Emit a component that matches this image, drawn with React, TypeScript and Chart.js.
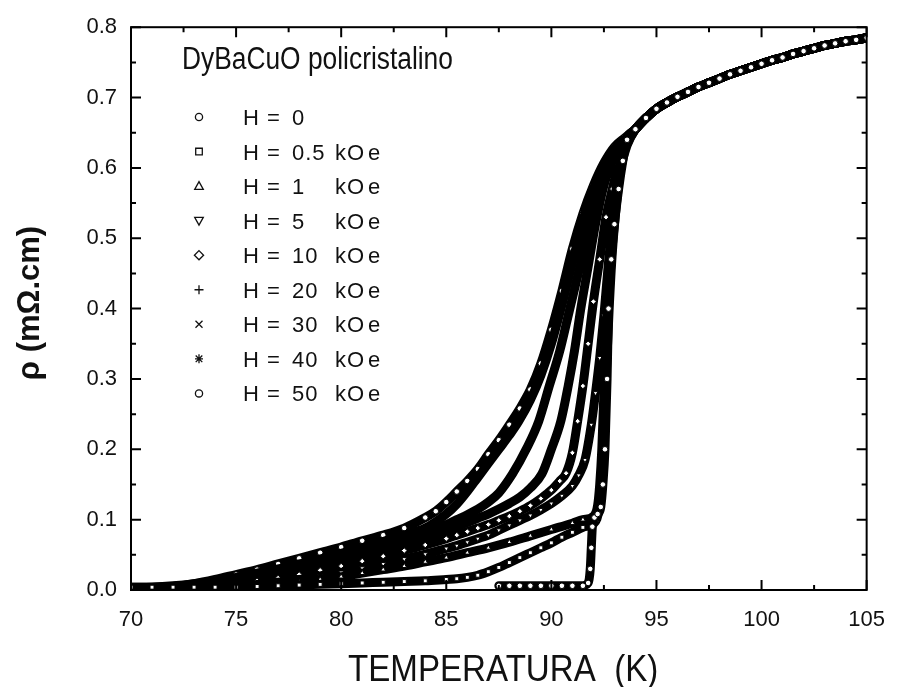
import React, { useEffect, useRef } from "react";
import { Chart, registerables } from "chart.js";

Chart.register(...registerables);

type Pt = [number, number];

// ---- axis ticks ----
const X_TICKS = [70, 75, 80, 85, 90, 95, 100, 105];
const X_MINOR = [72.5, 77.5, 82.5, 87.5, 92.5, 97.5, 102.5];
const Y_TICKS = [0, 0.1, 0.2, 0.3, 0.4, 0.5, 0.6, 0.7, 0.8];
const Y_MINOR = [0.05, 0.15, 0.25, 0.35, 0.45, 0.55, 0.65, 0.75];

// ---- texts ----
const TITLE = "DyBaCuO policristalino";
const X_TITLE = "TEMPERATURA  (K)";
const Y_TITLE = "ρ (mΩ.cm)";
const LEGEND_VALUES = ["0", "0.5", "1", "5", "10", "20", "30", "40", "50"];
const LEGEND_HAS_UNIT = [false, true, true, true, true, true, true, true, true];
const POINT_STYLES = ["circle", "rect", "triangle", "triangleDown", "rectRot", "cross", "crossRot", "star", "circle"];

// ---- data: temperature (K), resistivity (mOhm.cm) ----
// normal state, where all curves coincide
const NORMAL: Pt[] = [
  [94, 0.655], [94.5, 0.671], [95, 0.684], [95.5, 0.693], [96, 0.701], [96.5, 0.708],
  [97, 0.715], [97.5, 0.721], [98, 0.727], [98.5, 0.733], [99, 0.738], [99.5, 0.743],
  [100, 0.748], [100.5, 0.753], [101, 0.757], [101.5, 0.762], [102, 0.766], [102.5, 0.77],
  [103, 0.774], [103.5, 0.777], [104, 0.78], [104.5, 0.782], [105, 0.785],
];

const H0: Pt[] = [
  [87.5, 0.006], [88, 0.006], [88.5, 0.006], [89, 0.006], [89.5, 0.006], [90, 0.006],
  [90.5, 0.006], [91, 0.006], [91.5, 0.006], [91.75, 0.01], [91.85, 0.03], [91.9, 0.06],
  [91.95, 0.09], [92.05, 0.103], [92.2, 0.108], [92.35, 0.118], [92.45, 0.15], [92.55, 0.2],
  [92.65, 0.3], [92.72, 0.4], [92.85, 0.47], [93.0, 0.52], [93.2, 0.57], [93.4, 0.61], [93.6, 0.64],
];

const H05: Pt[] = [
  [70, 0.004], [71, 0.004], [72, 0.004], [73, 0.004], [74, 0.004], [75, 0.004], [76, 0.005],
  [77, 0.006], [78, 0.007], [79, 0.008], [80, 0.009], [81, 0.01], [82, 0.011], [83, 0.012],
  [84, 0.013], [85, 0.015], [85.5, 0.016], [86, 0.018], [86.5, 0.021], [87, 0.026],
  [87.5, 0.032], [88, 0.039], [88.5, 0.046], [89, 0.053], [89.5, 0.06], [90, 0.067],
  [90.5, 0.075], [91, 0.082], [91.5, 0.089], [92, 0.094], [92.15, 0.1], [92.3, 0.12],
  [92.4, 0.16], [92.5, 0.22], [92.6, 0.3], [92.75, 0.4], [92.9, 0.48], [93.1, 0.55],
  [93.3, 0.6], [93.5, 0.635],
];

const H1: Pt[] = [
  [74, 0.004], [75, 0.005], [76, 0.006], [77, 0.008], [78, 0.011], [79, 0.015], [80, 0.019],
  [81, 0.024], [82, 0.029], [83, 0.034], [84, 0.04], [85, 0.046], [86, 0.053], [87, 0.06],
  [88, 0.068], [89, 0.077], [90, 0.086], [91, 0.095], [91.5, 0.1], [92, 0.105], [92.2, 0.12],
  [92.3, 0.15], [92.4, 0.2], [92.5, 0.28], [92.65, 0.38], [92.8, 0.47], [93.0, 0.55],
  [93.2, 0.59], [93.5, 0.633],
];

const H5: Pt[] = [
  [73, 0.003], [74, 0.004], [75, 0.006], [76, 0.008], [77, 0.011], [78, 0.015], [79, 0.02],
  [80, 0.025], [81, 0.031], [82, 0.037], [83, 0.044], [84, 0.051], [85, 0.059], [85.5, 0.063],
  [86, 0.068], [86.5, 0.073], [87, 0.078], [87.5, 0.085], [88, 0.092], [88.5, 0.099],
  [89, 0.106], [89.5, 0.114], [90, 0.123], [90.5, 0.134], [91, 0.148], [91.3, 0.163],
  [91.6, 0.185], [91.9, 0.235], [92.1, 0.28], [92.3, 0.33], [92.5, 0.39], [92.7, 0.46],
  [92.9, 0.52], [93.1, 0.565], [93.3, 0.6], [93.6, 0.632],
];

const H10: Pt[] = [
  [72, 0.003], [73, 0.004], [74, 0.006], [75, 0.009], [76, 0.013], [77, 0.017], [78, 0.022],
  [79, 0.028], [80, 0.034], [81, 0.041], [82, 0.048], [83, 0.056], [84, 0.064], [85, 0.073],
  [85.5, 0.078], [86, 0.083], [86.5, 0.088], [87, 0.093], [87.5, 0.099], [88, 0.105],
  [88.5, 0.112], [89, 0.12], [89.5, 0.13], [90, 0.142], [90.4, 0.155], [90.7, 0.166],
  [91, 0.195], [91.25, 0.24], [91.5, 0.29], [91.75, 0.35], [92, 0.41], [92.3, 0.47],
  [92.6, 0.53], [92.9, 0.57], [93.2, 0.605], [93.5, 0.628],
];

const H20: Pt[] = [
  [71, 0.003], [72, 0.004], [73, 0.006], [74, 0.009], [75, 0.013], [76, 0.018], [77, 0.023],
  [78, 0.029], [79, 0.035], [80, 0.042], [81, 0.05], [82, 0.058], [83, 0.066], [84, 0.075],
  [85, 0.085], [85.5, 0.09], [86, 0.096], [86.5, 0.102], [87, 0.108], [87.5, 0.115],
  [88, 0.123], [88.5, 0.132], [89, 0.145], [89.55, 0.165], [90, 0.2], [90.45, 0.24],
  [90.8, 0.29], [91.1, 0.34], [91.4, 0.4], [91.75, 0.46], [92.1, 0.52], [92.5, 0.575],
  [93, 0.615], [93.5, 0.635],
];

const H30: Pt[] = [
  [70.5, 0.003], [72, 0.005], [73, 0.008], [74, 0.012], [75, 0.016], [76, 0.021], [77, 0.027],
  [78, 0.033], [79, 0.04], [80, 0.047], [81, 0.055], [82, 0.063], [83, 0.072], [84, 0.082],
  [85, 0.093], [85.5, 0.1], [86, 0.107], [86.5, 0.115], [87, 0.125], [87.5, 0.138],
  [88.15, 0.165], [88.8, 0.2], [89.4, 0.24], [89.9, 0.29], [90.4, 0.34], [90.8, 0.39],
  [91.2, 0.44], [91.6, 0.49], [92, 0.54], [92.5, 0.585], [93, 0.615], [93.5, 0.637],
];

const H40: Pt[] = [
  [70, 0.003], [71, 0.004], [72, 0.006], [73, 0.009], [74, 0.013], [75, 0.018], [76, 0.024],
  [77, 0.03], [78, 0.037], [79, 0.044], [80, 0.052], [81, 0.06], [82, 0.069], [83, 0.078],
  [84, 0.088], [85, 0.108], [85.5, 0.122], [86, 0.14], [86.5, 0.16], [87, 0.18], [87.5, 0.2],
  [88, 0.22], [88.45, 0.24], [89, 0.27], [89.5, 0.305], [90, 0.35], [90.5, 0.405],
  [91, 0.465], [91.5, 0.525], [92, 0.57], [92.5, 0.603], [93, 0.627], [93.5, 0.64],
];

const H50: Pt[] = [
  [70, 0.004], [71, 0.004], [72, 0.005], [73, 0.009], [74, 0.015], [75, 0.022], [76, 0.029],
  [77, 0.037], [78, 0.045], [79, 0.053], [80, 0.061], [81, 0.07], [82, 0.078], [83, 0.088],
  [84, 0.103], [84.5, 0.112], [85, 0.125], [85.5, 0.14], [86, 0.155], [86.5, 0.172],
  [87, 0.193], [87.5, 0.213], [88, 0.235], [88.5, 0.258], [89, 0.285], [89.5, 0.322],
  [90, 0.37], [90.5, 0.425], [91, 0.485], [91.5, 0.535], [92, 0.575], [92.5, 0.607],
  [93, 0.63], [93.5, 0.643],
];

const SERIES: Pt[][] = [H0, H05, H1, H5, H10, H20, H30, H40, H50];

const FONT = '"Liberation Sans", Arial, Helvetica, sans-serif';

function drawSymbol(ctx: CanvasRenderingContext2D, style: string, x: number, y: number) {
  ctx.beginPath();
  const r = 3.6;
  switch (style) {
    case "circle":
      ctx.arc(x, y, r, 0, Math.PI * 2);
      break;
    case "rect":
      ctx.rect(x - 3.3, y - 3.3, 6.6, 6.6);
      break;
    case "triangle":
      ctx.moveTo(x, y - 4.5); ctx.lineTo(x + 4.3, y + 3.3); ctx.lineTo(x - 4.3, y + 3.3); ctx.closePath();
      break;
    case "triangleDown":
      ctx.moveTo(x, y + 4.5); ctx.lineTo(x + 4.3, y - 3.3); ctx.lineTo(x - 4.3, y - 3.3); ctx.closePath();
      break;
    case "rectRot":
      ctx.moveTo(x, y - 4.6); ctx.lineTo(x + 4.6, y); ctx.lineTo(x, y + 4.6); ctx.lineTo(x - 4.6, y); ctx.closePath();
      break;
    case "cross":
      ctx.moveTo(x - 4.5, y); ctx.lineTo(x + 4.5, y); ctx.moveTo(x, y - 4.5); ctx.lineTo(x, y + 4.5);
      break;
    case "crossRot":
      ctx.moveTo(x - 3.5, y - 3.5); ctx.lineTo(x + 3.5, y + 3.5); ctx.moveTo(x + 3.5, y - 3.5); ctx.lineTo(x - 3.5, y + 3.5);
      break;
    case "star":
      ctx.moveTo(x - 4, y); ctx.lineTo(x + 4, y); ctx.moveTo(x, y - 4.5); ctx.lineTo(x, y + 4.5);
      ctx.moveTo(x - 3.3, y - 3.3); ctx.lineTo(x + 3.3, y + 3.3); ctx.moveTo(x + 3.3, y - 3.3); ctx.lineTo(x - 3.3, y + 3.3);
      break;
  }
  ctx.stroke();
}

const framePlugin = {
  id: "frame",
  afterDatasetsDraw(chart: any) {
    const { ctx, chartArea } = chart;
    const xs = chart.scales.x;
    const ys = chart.scales.y;
    const { left, right, top, bottom } = chartArea;
    ctx.save();
    ctx.strokeStyle = "#000";
    ctx.lineWidth = 2;
    ctx.strokeRect(left, top, right - left, bottom - top);
    ctx.beginPath();
    const tick = (vals: number[], len: number, horiz: boolean) => {
      vals.forEach((v) => {
        if (horiz) {
          const px = xs.getPixelForValue(v);
          ctx.moveTo(px, bottom); ctx.lineTo(px, bottom - len);
          ctx.moveTo(px, top); ctx.lineTo(px, top + len);
        } else {
          const py = ys.getPixelForValue(v);
          ctx.moveTo(left, py); ctx.lineTo(left + len, py);
          ctx.moveTo(right, py); ctx.lineTo(right - len, py);
        }
      });
    };
    tick(X_TICKS, 10, true);
    tick(X_MINOR, 5, true);
    tick(Y_TICKS, 10, false);
    tick(Y_MINOR, 5, false);
    ctx.stroke();
    ctx.restore();
  },
};

const textPlugin = {
  id: "texts",
  afterDraw(chart: any) {
    const { ctx } = chart;
    ctx.save();
    ctx.fillStyle = "#111";
    ctx.strokeStyle = "#111";
    // title inside plot
    ctx.save();
    ctx.font = `31px ${FONT}`;
    ctx.textBaseline = "alphabetic";
    ctx.translate(182, 68.5);
    ctx.scale(0.85, 1);
    ctx.fillText(TITLE, 0, 0);
    ctx.restore();

    // legend
    ctx.lineWidth = 1.3;
    ctx.font = `22px ${FONT}`;
    ctx.textBaseline = "alphabetic";
    LEGEND_VALUES.forEach((val, i) => {
      const y = 117 + i * 34.55;
      drawSymbol(ctx, POINT_STYLES[i], 199, y);
      const base = y + 8;
      ctx.fillText("H", 243, base);
      ctx.fillText("=", 267, base);
      try { (ctx as any).letterSpacing = "1px"; } catch (e) {}
      ctx.fillText(val, 292, base);
      if (LEGEND_HAS_UNIT[i]) {
        ctx.fillText("kO", 335, base);
        ctx.fillText("e", 368, base);
      }
      try { (ctx as any).letterSpacing = "0px"; } catch (e) {}
    });

    // x axis title
    ctx.save();
    ctx.font = `36px ${FONT}`;
    ctx.translate(348, 681);
    ctx.scale(0.92, 1);
    ctx.fillText(X_TITLE, 0, 0);
    ctx.restore();

    // y axis title
    ctx.save();
    ctx.font = `bold 31px ${FONT}`;
    ctx.translate(39, 303);
    ctx.rotate(-Math.PI / 2);
    ctx.textAlign = "center";
    ctx.fillText(Y_TITLE, 0, 0);
    ctx.restore();

    ctx.restore();
  },
};

export default function App() {
  const ref = useRef<HTMLCanvasElement | null>(null);

  useEffect(() => {
    if (!ref.current) return;
    const datasets = SERIES.map((s, i) => {
      const style = POINT_STYLES[i];
      return {
        label: "H = " + LEGEND_VALUES[i],
        data: [...s, ...NORMAL].map(([x, y]) => ({ x, y })),
        showLine: true,
        borderColor: "#000",
        borderWidth: 9,
        borderJoinStyle: "round" as const,
        borderCapStyle: "round" as const,
        cubicInterpolationMode: "monotone" as const,
        pointStyle: style === "triangleDown" ? "triangle" : style,
        rotation: style === "triangleDown" ? 180 : 0,
        pointRadius: 2.8,
        pointBorderWidth: 1,
        pointBorderColor: "#000",
        pointBackgroundColor: "#fff",
        clip: 0,
      };
    });

    const chart = new Chart(ref.current, {
      type: "scatter",
      data: { datasets: datasets as any },
      options: {
        animation: false,
        responsive: false,
        maintainAspectRatio: false,
        layout: { padding: { top: 21, right: 22, left: 0, bottom: 0 } },
        plugins: { legend: { display: false }, tooltip: { enabled: false } },
        scales: {
          x: {
            type: "linear",
            min: 70,
            max: 105,
            afterFit: (s: any) => { s.height = 97; },
            afterBuildTicks: (s: any) => { s.ticks = X_TICKS.map((v) => ({ value: v })); },
            grid: { display: false, drawTicks: false },
            border: { display: false },
            ticks: {
              padding: 17,
              color: "#111",
              font: { family: FONT, size: 22 },
              maxRotation: 0,
              autoSkip: false,
              callback: (v: any) => String(v),
            },
          },
          y: {
            type: "linear",
            min: 0,
            max: 0.8,
            afterFit: (s: any) => { s.width = 131; },
            afterBuildTicks: (s: any) => { s.ticks = Y_TICKS.map((v) => ({ value: v })); },
            grid: { display: false, drawTicks: false },
            border: { display: false },
            ticks: {
              padding: 14,
              color: "#111",
              font: { family: FONT, size: 22 },
              autoSkip: false,
              callback: (v: any) => Number(v).toFixed(1),
            },
          },
        },
      },
      plugins: [framePlugin, textPlugin],
    });
    return () => chart.destroy();
  }, []);

  return (
    <div style={{ position: "absolute", left: 0, top: 0, width: 902, height: 687, background: "#fff" }}>
      <canvas ref={ref} width={902} height={687} style={{ display: "block" }} />
    </div>
  );
}
